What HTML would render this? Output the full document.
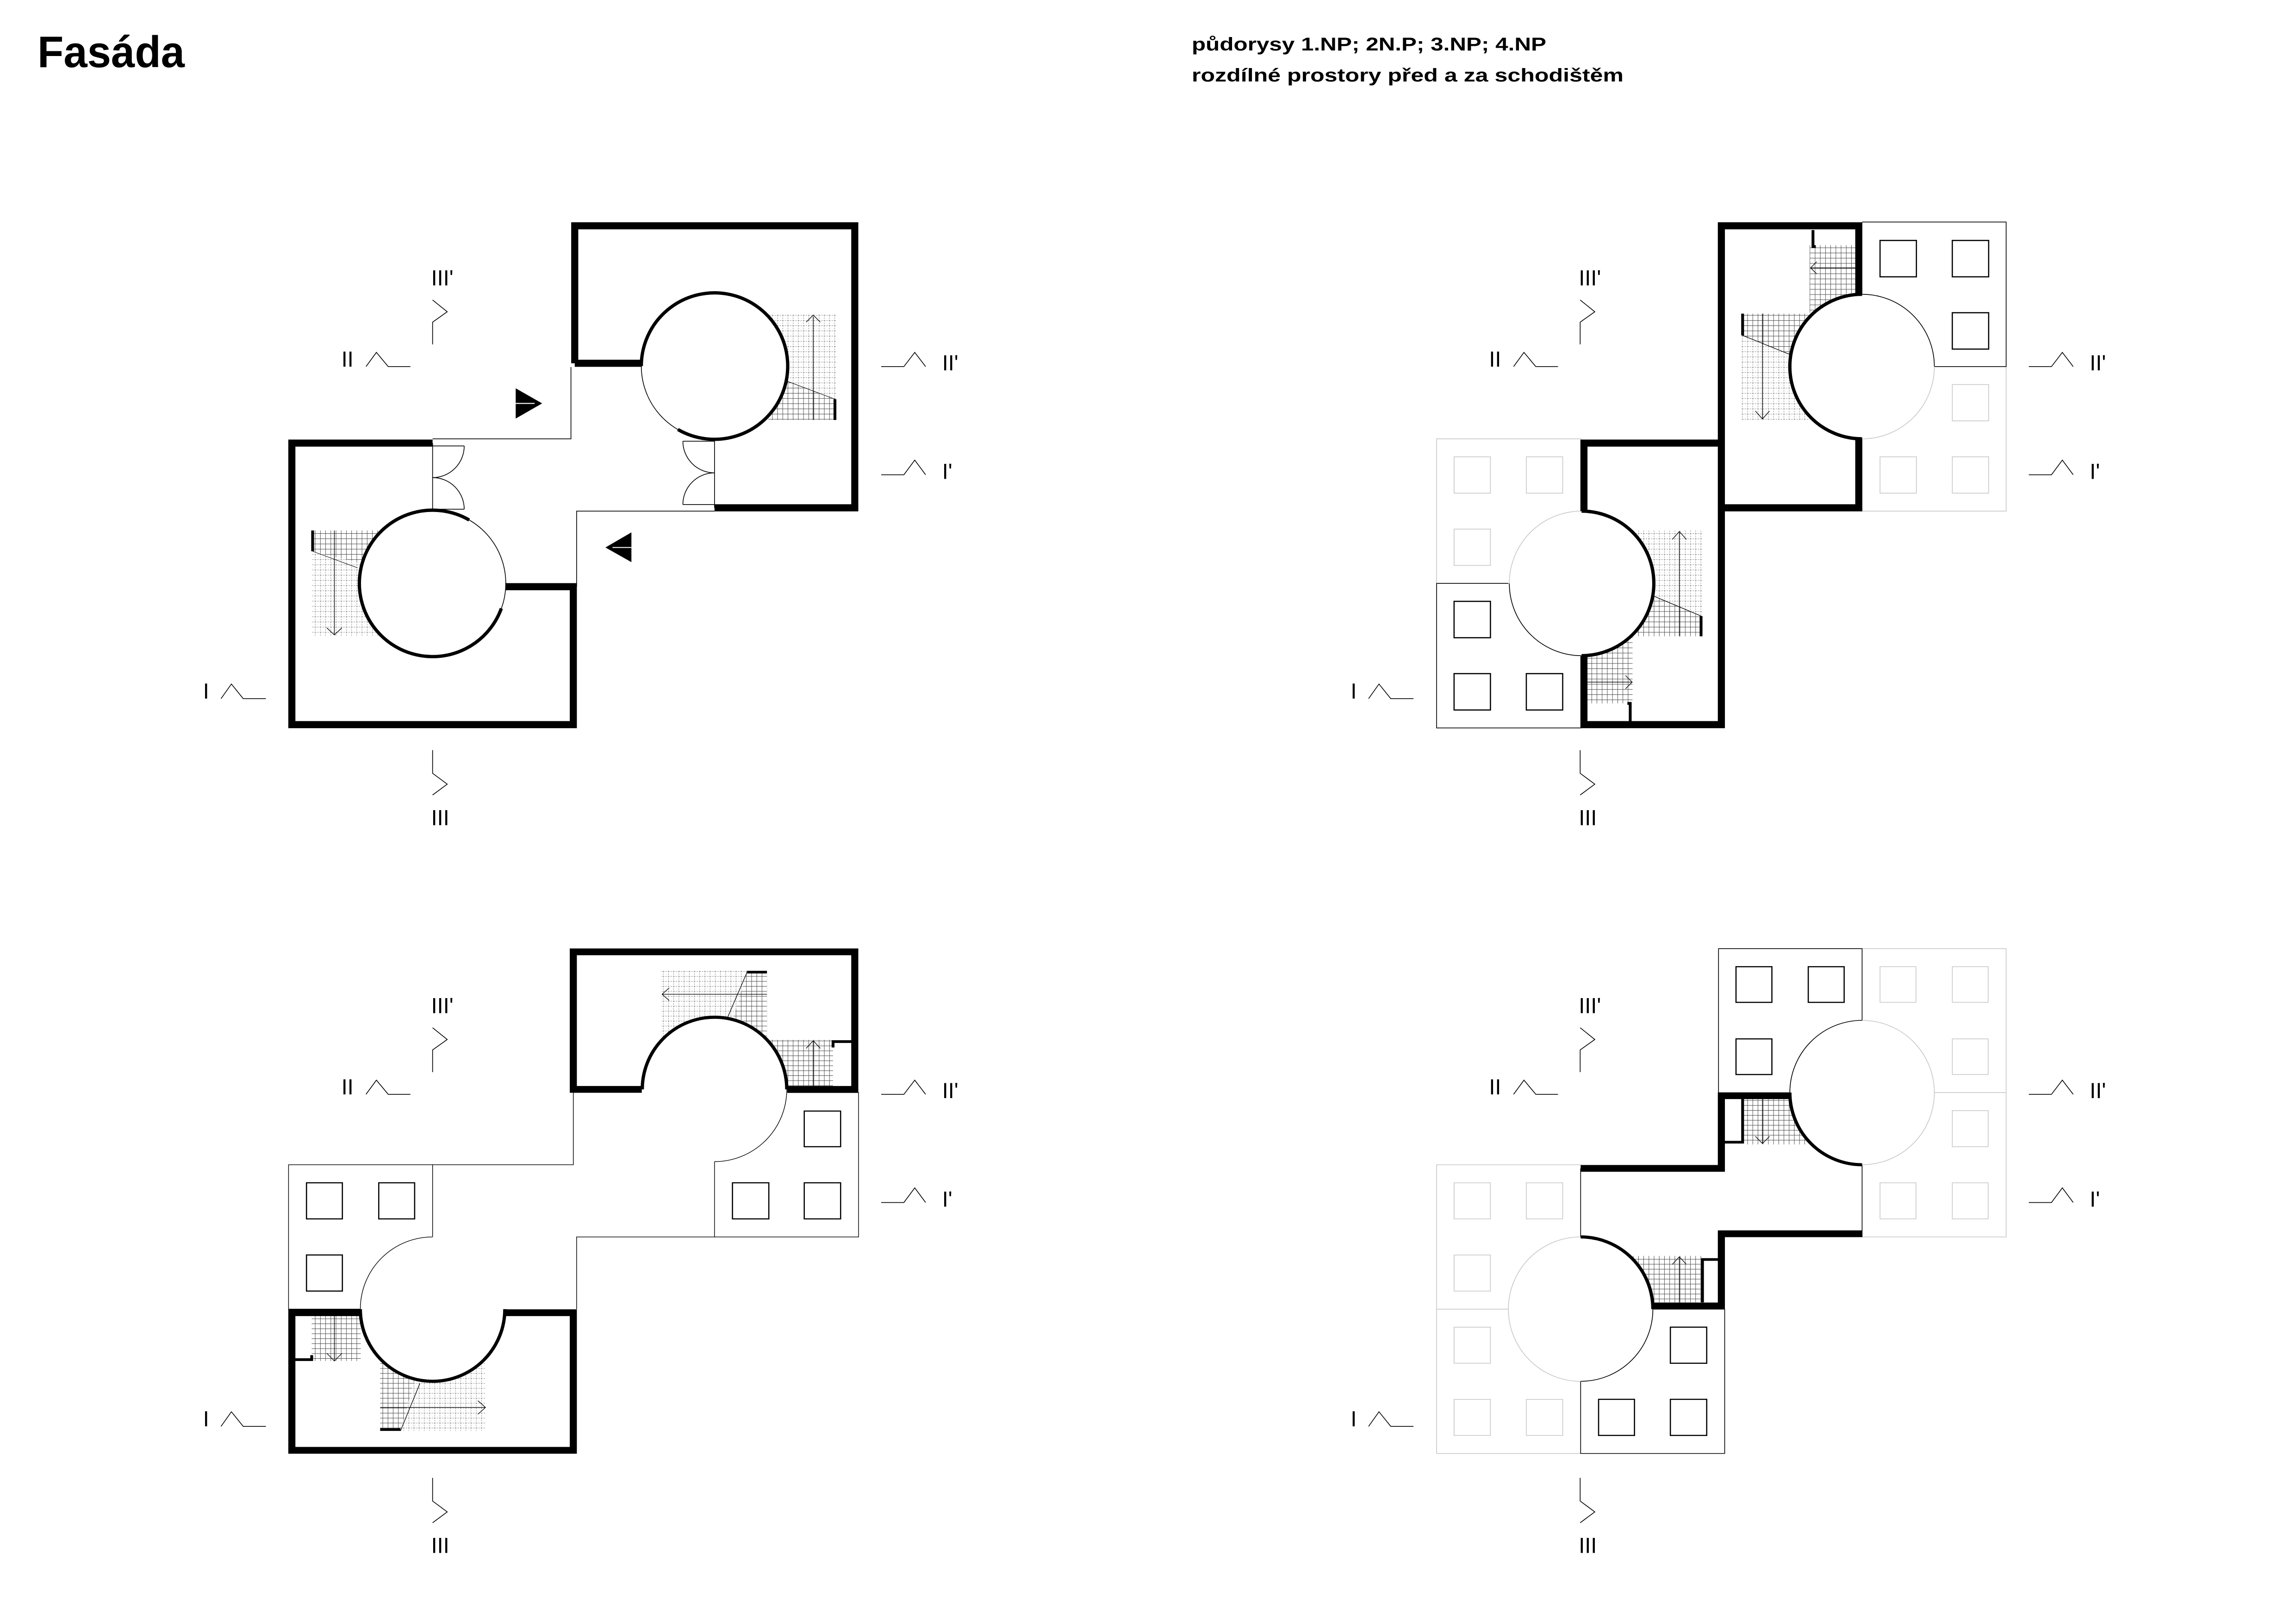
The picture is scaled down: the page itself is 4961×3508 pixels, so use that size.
<!DOCTYPE html>
<html><head><meta charset="utf-8"><style>html,body{margin:0;padding:0;background:#fff}svg{display:block}</style></head>
<body>
<svg xmlns="http://www.w3.org/2000/svg" width="4961" height="3508" viewBox="0 0 4961 3508">
<defs>
<pattern id="gs" patternUnits="userSpaceOnUse" width="11" height="11"><path d="M0,0.5H11M0.5,0V11" stroke="#444" stroke-width="0.9" fill="none"/></pattern>
<pattern id="gd" patternUnits="userSpaceOnUse" width="11" height="11"><path d="M0,0.5H11M0.5,0V11" stroke="#888" stroke-width="0.9" stroke-dasharray="3 2" fill="none"/></pattern>
<g id="mk1">
<g fill="none" stroke="#000" stroke-width="1.6">
<path d="M524,243 L555,268 L524,290 V337"/>
<path d="M383,384 L405,354 L430,384 H477"/>
<path d="M1474,384 H1522 L1545,354 L1568,384"/>
<path d="M1474,613 H1522 L1545,582 L1568,613"/>
<path d="M76,1087 L98,1056 L123,1087 H171"/>
<path d="M524,1196 V1245 L555,1268 L524,1291"/>
</g>
<g font-family="Liberation Sans, sans-serif" font-size="46">
<text x="521" y="212">III'</text>
<text x="331" y="384">II</text>
<text x="1603" y="392">II'</text>
<text x="1603" y="622">I'</text>
<text x="38" y="1087">I</text>
<text x="521" y="1355">III</text>
</g>
</g>
</defs>

<text x="81" y="145" font-family="Liberation Sans, sans-serif" font-weight="bold" font-size="96" textLength="318" lengthAdjust="spacingAndGlyphs">Fasáda</text>
<text x="2575" y="109" font-family="Liberation Sans, sans-serif" font-weight="bold" font-size="40" textLength="766" lengthAdjust="spacingAndGlyphs">půdorysy 1.NP; 2N.P; 3.NP; 4.NP</text>
<text x="2575" y="176" font-family="Liberation Sans, sans-serif" font-weight="bold" font-size="40" textLength="933" lengthAdjust="spacingAndGlyphs">rozdílné prostory před a za schodištěm</text>

<!-- PLAN 1 -->
<g transform="translate(400,400) scale(1.0204)">
<use href="#mk1"/>
<rect x="1235" y="272" width="145" height="225" fill="url(#gd)"/>
<path d="M1235,420 L1275,415 L1376,453 V497 H1235 Z" fill="#fff"/>
<path d="M1235,420 L1275,415 L1376,453 V497 H1235 Z" fill="url(#gs)"/>
<path d="M1275,415 L1376,453" stroke="#000" stroke-width="1" fill="none"/>
<rect x="267" y="731" width="148" height="224" fill="url(#gd)"/>
<path d="M267,731 H415 V810 L267,775 Z" fill="#fff"/>
<path d="M267,731 H415 V810 L267,775 Z" fill="url(#gs)"/>
<path d="M270,775 L365,810" stroke="#000" stroke-width="1"/>
<g stroke="#000" stroke-width="1.3" fill="none">
<path d="M1330,497 V278 M1315,290 L1330,275 L1345,290"/>
<path d="M316,731 V952 M300,937 L316,952 L332,937"/>
</g>
<circle cx="1121" cy="383" r="155" fill="#fff" stroke="#000" stroke-width="1.6"/>
<circle cx="524" cy="843" r="155" fill="#fff" stroke="#000" stroke-width="1.6"/>
<g fill="none" stroke="#000" stroke-width="7">
<path d="M966,383 A155,155 0 1 1 1043.5,517.2"/>
<path d="M669.6,896 A155,155 0 1 1 601.5,708.8"/>
</g>
<g fill="none" stroke="#000" stroke-width="6">
<path d="M1376,453 V497"/><path d="M270,731 V775"/>
</g>
<g fill="none" stroke="#000" stroke-width="15" stroke-linejoin="miter">
<path d="M825,377 V86 H1418 V683 H1121"/>
<path d="M825,377 H967"/>
<path d="M524,546 H226 V1142 H822 V850 H678"/>
</g>
<g fill="none" stroke="#000" stroke-width="1.6">
<path d="M817,385 V537 H524"/>
<path d="M829,850 V690 H1121"/>
<path d="M524,546 V688 M524,552 H591 M524,686 H591 M591,552 A67,67 0 0 1 524,619 M524,619 A67,67 0 0 1 591,686"/>
<path d="M1121,538 V683 M1121,542 H1054 M1054,676 H1121 M1054,542 A67,67 0 0 0 1121,609 M1121,609 A67,67 0 0 0 1054,676"/>
</g>
<path d="M700,430 L756,462 L700,494Z" fill="#000"/>
<path d="M700,462 H740" stroke="#fff" stroke-width="2"/>
<path d="M945,735 L890,767 L945,798Z" fill="#000"/>
<path d="M945,767 H905" stroke="#fff" stroke-width="2"/>
</g>

<!-- PLAN 2 -->
<g transform="translate(2900,400) scale(1.0204)">
<use href="#mk1" transform="translate(-20,0)"/>
<g fill="none" stroke="#c8c8c8" stroke-width="1.6">
<path d="M1406,384 V690 H1101"/>
<rect x="1292" y="422" width="77" height="77"/><rect x="1139" y="575" width="77" height="77"/><rect x="1292" y="575" width="77" height="77"/>
<path d="M200,843 V537 H507"/>
<rect x="237" y="575" width="77" height="77"/><rect x="390" y="575" width="77" height="77"/><rect x="237" y="728" width="77" height="77"/>
</g>
<g fill="none" stroke="#000" stroke-width="1.6">
<path d="M1254,384 H1406 V78 H1101"/>
<path d="M352,843 H200 V1149 H507"/>
</g>
<g fill="none" stroke="#000" stroke-width="2.5">
<rect x="1139" y="117" width="77" height="77"/><rect x="1292" y="117" width="77" height="77"/><rect x="1292" y="270" width="77" height="77"/>
<rect x="237" y="881" width="77" height="77"/><rect x="237" y="1034" width="77" height="77"/><rect x="390" y="1034" width="77" height="77"/>
</g>
<rect x="990" y="127" width="97" height="143" fill="url(#gs)"/>
<rect x="845" y="272" width="145" height="225" fill="url(#gd)"/>
<path d="M845,272 H990 V358 H947 L848,318 Z" fill="#fff"/>
<path d="M845,272 H990 V358 H947 L848,318 Z" fill="url(#gs)"/>
<rect x="615" y="730" width="147" height="225" fill="url(#gd)"/>
<path d="M615,870 H660 L760,912 V955 H615 Z" fill="#fff"/>
<path d="M615,870 H660 L760,912 V955 H615 Z" fill="url(#gs)"/>
<rect x="519" y="955" width="96" height="142" fill="url(#gs)"/>
<g stroke="#000" stroke-width="1.3" fill="none">
<path d="M848,318 L947,358"/><path d="M660,870 L760,912"/>
<path d="M1087,175 H993 M1005,162 L992,175 L1005,188"/>
<path d="M890,272 V495 M875,478 L890,495 L905,478"/>
<path d="M714,955 V733 M699,750 L714,733 L729,750"/>
<path d="M519,1052 H615 M600,1038 L614,1052 L600,1066"/>
</g>
<circle cx="1101" cy="384" r="153" fill="#fff" stroke="#c8c8c8" stroke-width="1.6"/>
<circle cx="507" cy="843" r="153" fill="#fff" stroke="#c8c8c8" stroke-width="1.6"/>
<g fill="none" stroke="#000" stroke-width="1.6">
<path d="M1101,231 A153,153 0 0 1 1254,384"/>
<path d="M507,996 A153,153 0 0 1 354,843"/>
</g>
<g fill="none" stroke="#000" stroke-width="7">
<path d="M1101,231 A153,153 0 0 0 1101,537"/>
<path d="M507,690 A153,153 0 0 1 507,996"/>
</g>
<g fill="none" stroke="#000" stroke-width="6">
<path d="M848,272 V318"/><path d="M760,912 V955"/>
<path d="M997,95 V130 H1003"/><path d="M610,1135 V1097 H604"/>
</g>
<g fill="none" stroke="#000" stroke-width="15">
<path d="M1094,232 V86 H803 V683 H1094 V537"/>
<path d="M803,690 V1142 H512 V997"/>
<path d="M512,690 V546 H803"/>
</g>
</g>

<!-- markers plans 3,4 -->
<use href="#mk1" transform="translate(400,1972) scale(1.0204)"/>
<use href="#mk1" transform="translate(2900,1972) scale(1.0204) translate(-20,0)"/>

<!-- PLAN 3 -->
<g transform="translate(400,1980) scale(1.0204,0.9745)">
<g fill="none" stroke="#000" stroke-width="1.4">
<path d="M822,390 V550 H524"/>
<path d="M829,870 V710 H1121"/>
<path d="M1121,543 V710 H1426 V390 H1275"/>
<path d="M524,710 V550 H219 V870 H371"/>
<path d="M371,870 A153,160 0 0 1 524,710"/>
<path d="M1274,383 A153,160 0 0 1 1121,543"/>
</g>
<g fill="none" stroke="#000" stroke-width="2.5">
<rect x="1311" y="431" width="77" height="79"/><rect x="1159" y="590" width="77" height="80"/><rect x="1311" y="590" width="77" height="80"/>
<rect x="257" y="590" width="76" height="80"/><rect x="410" y="590" width="76" height="80"/><rect x="257" y="750" width="76" height="80"/>
</g>
<rect x="1008" y="120" width="224" height="150" fill="url(#gd)"/>
<path d="M1190,123 H1232 V270 H1148 Z" fill="#fff"/>
<path d="M1190,123 H1232 V270 H1148 Z" fill="url(#gs)"/>
<rect x="1232" y="273" width="140" height="103" fill="url(#gs)"/>
<rect x="268" y="885" width="104" height="100" fill="url(#gs)"/>
<rect x="413" y="985" width="223" height="155" fill="url(#gd)"/>
<path d="M413,985 H497 L456,1140 H413 Z" fill="#fff"/>
<path d="M413,985 H497 L456,1140 H413 Z" fill="url(#gs)"/>
<g stroke="#000" stroke-width="1.3" fill="none">
<path d="M1190,123 L1148,225"/><path d="M497,1035 L456,1140"/>
<path d="M1232,172 H1010 M1025,158 L1010,172 L1025,186"/>
<path d="M1330,376 V275 M1315,292 L1330,275 L1345,292"/>
<path d="M316,885 V985 M300,968 L316,985 L332,968"/>
<path d="M413,1088 H636 M620,1073 L636,1088 L620,1103"/>
</g>
<path d="M968,383 A153,160 0 0 1 1274,383 Z" fill="#fff"/>
<path d="M371,870 A153,160 0 0 0 677,870 Z" fill="#fff"/>
<g fill="none" stroke="#000" stroke-width="7">
<path d="M968,383 A153,160 0 0 1 1274,383"/>
<path d="M371,870 A153,160 0 0 0 677,870"/>
</g>
<g fill="none" stroke="#000" stroke-width="6">
<path d="M1190,123 H1232"/><path d="M413,1137 H456"/>
<path d="M1418,277 H1372 V290"/><path d="M233,982 H268 V972"/>
</g>
<g fill="none" stroke="#000" stroke-width="15">
<path d="M967,383 H822 V78 H1418 V383 H1275"/>
<path d="M372,878 H226 V1183 H822 V878 H677"/>
</g>
</g>

<!-- PLAN 4 -->
<g transform="translate(2900,1980) scale(1.0204,0.9745)">
<g fill="none" stroke="#c8c8c8" stroke-width="1.6">
<path d="M1101,71 H1406 V710 H1101 M1254,390 H1406"/>
<rect x="1139" y="111" width="76" height="79"/><rect x="1292" y="111" width="76" height="79"/><rect x="1292" y="271" width="76" height="79"/>
<rect x="1292" y="430" width="76" height="80"/><rect x="1139" y="590" width="76" height="80"/><rect x="1292" y="590" width="76" height="80"/>
<path d="M505,550 H200 V1190 H505 M200,870 H352"/>
<rect x="237" y="590" width="77" height="80"/><rect x="390" y="590" width="77" height="80"/><rect x="237" y="750" width="77" height="80"/>
<rect x="237" y="910" width="77" height="80"/><rect x="237" y="1070" width="77" height="80"/><rect x="390" y="1070" width="77" height="80"/>
</g>
<g fill="none" stroke="#000" stroke-width="1.6">
<path d="M797,390 V71 H1101 V230"/>
<path d="M1101,550 V710"/>
<path d="M505,558 V710"/>
<path d="M658,870 H810 V1190 H505 V1030"/>
</g>
<g fill="none" stroke="#000" stroke-width="2.5">
<rect x="834" y="111" width="76" height="79"/><rect x="987" y="111" width="76" height="79"/><rect x="834" y="271" width="76" height="79"/>
<rect x="695" y="910" width="77" height="80"/><rect x="543" y="1070" width="76" height="80"/><rect x="695" y="1070" width="77" height="80"/>
</g>
<rect x="850" y="400" width="140" height="105" fill="url(#gs)"/>
<rect x="615" y="752" width="145" height="103" fill="url(#gs)"/>
<g stroke="#000" stroke-width="1.3" fill="none">
<path d="M890,400 V503 M875,487 L890,503 L905,487"/>
<path d="M714,855 V754 M699,771 L714,754 L729,771"/>
</g>
<ellipse cx="1101" cy="390" rx="153" ry="160" fill="#fff" stroke="#c8c8c8" stroke-width="1.6"/>
<ellipse cx="505" cy="870" rx="153" ry="160" fill="#fff" stroke="#c8c8c8" stroke-width="1.6"/>
<g fill="none" stroke="#000" stroke-width="1.6">
<path d="M948,390 A153,160 0 0 1 1101,230"/>
<path d="M658,870 A153,160 0 0 1 505,1030"/>
</g>
<g fill="none" stroke="#000" stroke-width="7">
<path d="M948,390 A153,160 0 0 0 1101,550"/>
<path d="M505,710 A153,160 0 0 1 658,870"/>
</g>
<g fill="none" stroke="#000" stroke-width="6">
<path d="M810,500 H848 V400"/><path d="M803,760 H763 V855"/>
</g>
<g fill="none" stroke="#000" stroke-width="15">
<path d="M505,558 H803 V397 H949"/>
<path d="M1101,703 H803 V863 H660"/>
</g>
</g>
</svg>
</body></html>
